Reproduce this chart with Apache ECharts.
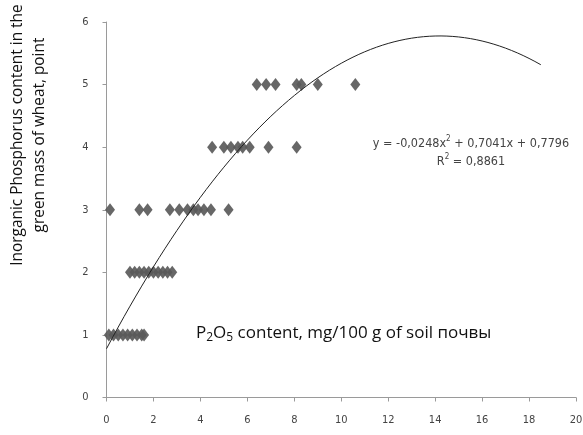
<!DOCTYPE html>
<html><head><meta charset="utf-8">
<script src="https://cdn.jsdelivr.net/npm/echarts@6/dist/echarts.min.js"></script>
<style>html,body{margin:0;padding:0;background:#fff}#c{width:583px;height:435px}</style>
</head><body><div id="c"></div>
<script>
// Observed points: P2O5 content (x) and phosphorus score (y)
const xLevel1 = [0.1, 0.3, 0.5, 0.7, 0.9, 1.1, 1.3, 1.5, 1.6];
const xLevel2 = [1.0, 1.2, 1.4, 1.6, 1.8, 2.0, 2.2, 2.4, 2.6, 2.8];
const xLevel3 = [0.15, 1.4, 1.75, 2.7, 3.1, 3.45, 3.7, 3.9, 4.15, 4.45, 5.2];
const xLevel4 = [4.5, 5.0, 5.3, 5.6, 5.8, 6.1, 6.9, 8.1];
const xLevel5 = [6.4, 6.8, 7.2, 8.1, 8.3, 9.0, 10.6];
const levels = [1, 2, 3, 4, 5];
// Polynomial trendline coefficients shown on the chart (a, b, c): y = a x^2 + b x + c
const trendCoef = [-0.0248, 0.7041, 0.7796];
const trendRange = [0, 18.5];
const xTicks = [0, 2, 4, 6, 8, 10, 12, 14, 16, 18, 20];
const yTicks = [0, 1, 2, 3, 4, 5, 6];

const groups = [xLevel1, xLevel2, xLevel3, xLevel4, xLevel5];
const scatterData = [];
groups.forEach((g, i) => g.forEach(x => scatterData.push([x, levels[i]])));

const trendData = [];
for (let k = 0; k <= 74; k++) {
  const x = trendRange[0] + (trendRange[1] - trendRange[0]) * k / 74;
  trendData.push([x, trendCoef[0] * x * x + trendCoef[1] * x + trendCoef[2]]);
}

const chart = echarts.init(document.getElementById('c'));
const axisCommon = {
  axisLine: {show: true, lineStyle: {color: '#9a9a9a', width: 1}},
  axisTick: {show: true, length: 4, lineStyle: {color: '#9a9a9a'}},
  splitLine: {show: false},
  axisLabel: {color: '#444', fontFamily: 'DejaVu Sans Condensed, Liberation Sans Narrow, sans-serif', fontSize: 11}
};
chart.setOption({
  animation: false,
  grid: {left: 106.5, right: 7, top: 22, bottom: 37.5, containLabel: false, outerBoundsMode: 'none'},
  xAxis: Object.assign({}, axisCommon, {
    type: 'value', min: xTicks[0], max: xTicks[xTicks.length - 1], interval: 2,
    axisLabel: Object.assign({}, axisCommon.axisLabel, {margin: 17})
  }),
  yAxis: Object.assign({}, axisCommon, {
    type: 'value', min: yTicks[0], max: yTicks[yTicks.length - 1], interval: 1,
    axisLabel: Object.assign({}, axisCommon.axisLabel, {margin: 18})
  }),
  graphic: [{
    type: 'text', x: 29, y: 135, rotation: Math.PI / 2,
    style: {
      text: 'Inorganic Phosphorus content in the\ngreen mass of wheat, point',
      fill: '#111', font: '15.4px "Open Sans"', lineHeight: 22,
      align: 'center', verticalAlign: 'middle'
    }
  }],
  title: [{
    text: '{n|P}{s|2}{n|O}{s|5}{n| content, mg/100 g of soil почвы}',
    left: 191, top: 318,
    textStyle: {fontWeight: 'normal', rich: {
      n: {fontFamily: 'Open Sans', fontSize: 17, color: '#111', fontWeight: 'normal'},
      s: {fontFamily: 'Open Sans', fontSize: 12, color: '#111', fontWeight: 'normal', verticalAlign: 'bottom', padding: [9, 0, 0, 0]}
    }}
  }, {
    text: '{t|y = -0,0248x}{p|2}{t| + 0,7041x + 0,7796}\n{t|R}{p|2}{t| = 0,8861}',
    left: 466, top: 130, textAlign: 'center',
    textStyle: {fontWeight: 'normal', lineHeight: 18, rich: {
      t: {fontFamily: 'DejaVu Sans Condensed', fontSize: 12.5, color: '#444', lineHeight: 18, fontWeight: 'normal'},
      p: {fontFamily: 'DejaVu Sans Condensed', fontSize: 8, color: '#444', fontWeight: 'normal', verticalAlign: 'top', lineHeight: 18, padding: [0, 0, 7, 0]}
    }}
  }],
  series: [{
    type: 'scatter', data: scatterData, symbol: 'diamond', symbolSize: [10, 13],
    itemStyle: {color: '#5a5a5a', opacity: 0.92}, z: 2
  }, {
    type: 'line', data: trendData, showSymbol: false, smooth: false,
    lineStyle: {color: '#222', width: 1}, z: 3
  }]
});
</script></body></html>
